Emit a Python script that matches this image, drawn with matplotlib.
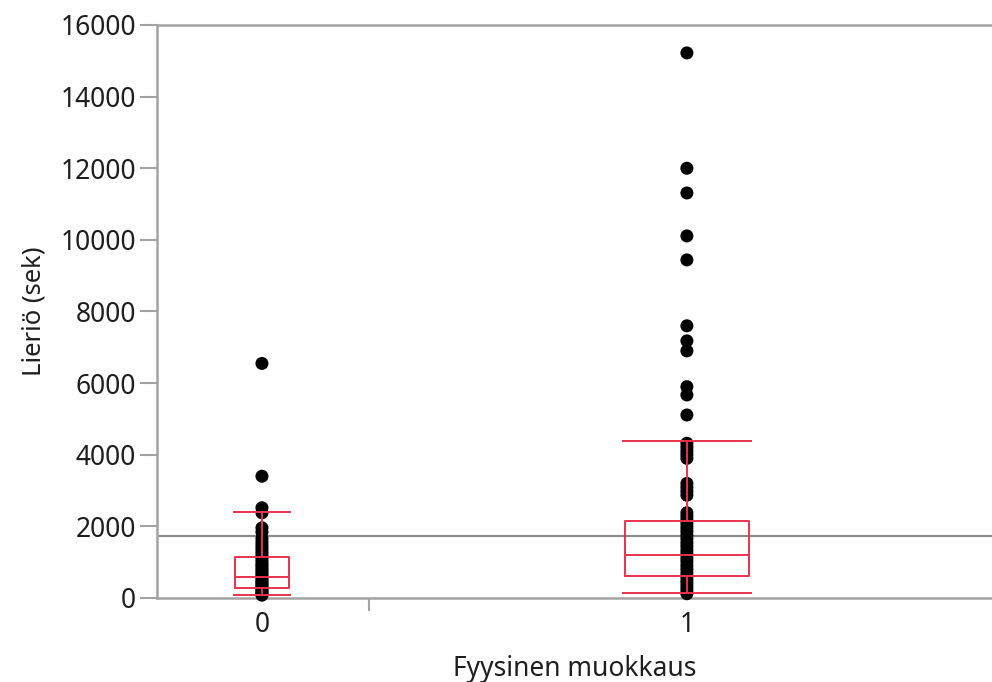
import matplotlib
matplotlib.use("Agg")
import matplotlib.pyplot as plt

# ---- data ----
categories = ["0", "1"]
group0_values = [6550, 3400, 2520, 2380, 1960, 1840, 1660, 1560, 1470, 1390, 1310,
                 1230, 1150, 1080, 1000, 930, 870, 800, 740, 680, 620, 560, 500,
                 450, 400, 350, 300, 250, 200, 160, 120, 80]
group1_values = [15220, 12000, 11310, 10110, 9440, 7600, 7180, 6900, 5900, 5670,
                 5110, 4320, 4210, 4100, 4000, 3900, 3200, 3090, 2980, 2870,
                 2380, 2280, 2180, 2070, 1960, 1860, 1750, 1650, 1540, 1440, 1330,
                 1230, 1120, 1020, 910, 810, 700, 600, 500, 410, 310, 210, 120]
whisker_low = [85, 140]
box_q1 = [280, 615]
box_median = [590, 1200]
box_q3 = [1145, 2150]
whisker_high = [2400, 4385]
grand_mean = 1730
y_ticks = [0, 2000, 4000, 6000, 8000, 10000, 12000, 14000, 16000]

# ---- style ----
red = "#e8334d"
gray = "#a3a3a3"
txt = "#1e1e1e"
plt.rcParams["font.family"] = ["Noto Sans", "DejaVu Sans"]

fig = plt.figure(figsize=(9.92, 6.82), dpi=100)
ax = fig.add_axes([157 / 992, 84 / 682, 1 - 157 / 992, 573 / 682])

positions = [0, 1]
ax.axhline(grand_mean, color="#8c8c8c", lw=1.6, zorder=1)

for pos, vals in zip(positions, [group0_values, group1_values]):
    ax.scatter([pos] * len(vals), vals, s=88, color="black", edgecolors="none",
               zorder=3, clip_on=False)

stats = []
for i in range(len(categories)):
    stats.append(dict(whislo=whisker_low[i], q1=box_q1[i], med=box_median[i],
                      q3=box_q3[i], whishi=whisker_high[i], fliers=[]))
widths = [0.125, 0.29]
lp = dict(color=red, lw=1.4)
ax.bxp(stats, positions=positions, widths=widths, capwidths=[0.13, 0.30],
       showfliers=False, boxprops=lp, whiskerprops=lp, capprops=lp,
       medianprops=lp, manage_ticks=False, zorder=4)

ax.set_xlim(-0.247, 1.718)
ax.set_ylim(0, 16000)
ax.set_yticks(y_ticks)
ax.set_yticklabels([str(v) for v in y_ticks])
ax.set_xticks(positions)
ax.set_xticklabels(categories)
ax.set_xticks([0.252], minor=True)

ax.tick_params(axis="y", length=12, width=1.5, color=gray, pad=3,
               labelsize=19, labelcolor=txt)
ax.tick_params(axis="x", which="major", length=0, pad=9, labelsize=19, labelcolor=txt)
ax.tick_params(axis="x", which="minor", length=9, width=1.5, color=gray)

for side in ["left", "bottom", "top"]:
    ax.spines[side].set_color(gray)
    ax.spines[side].set_linewidth(1.8)
ax.spines["right"].set_visible(False)

ax.set_ylabel("Lieriö (sek)", fontsize=18.5, color=txt, labelpad=10)
ax.set_xlabel("Fyysinen muokkaus", fontsize=19, color=txt, labelpad=12)

fig.savefig("out.png", dpi=100, facecolor="white")
